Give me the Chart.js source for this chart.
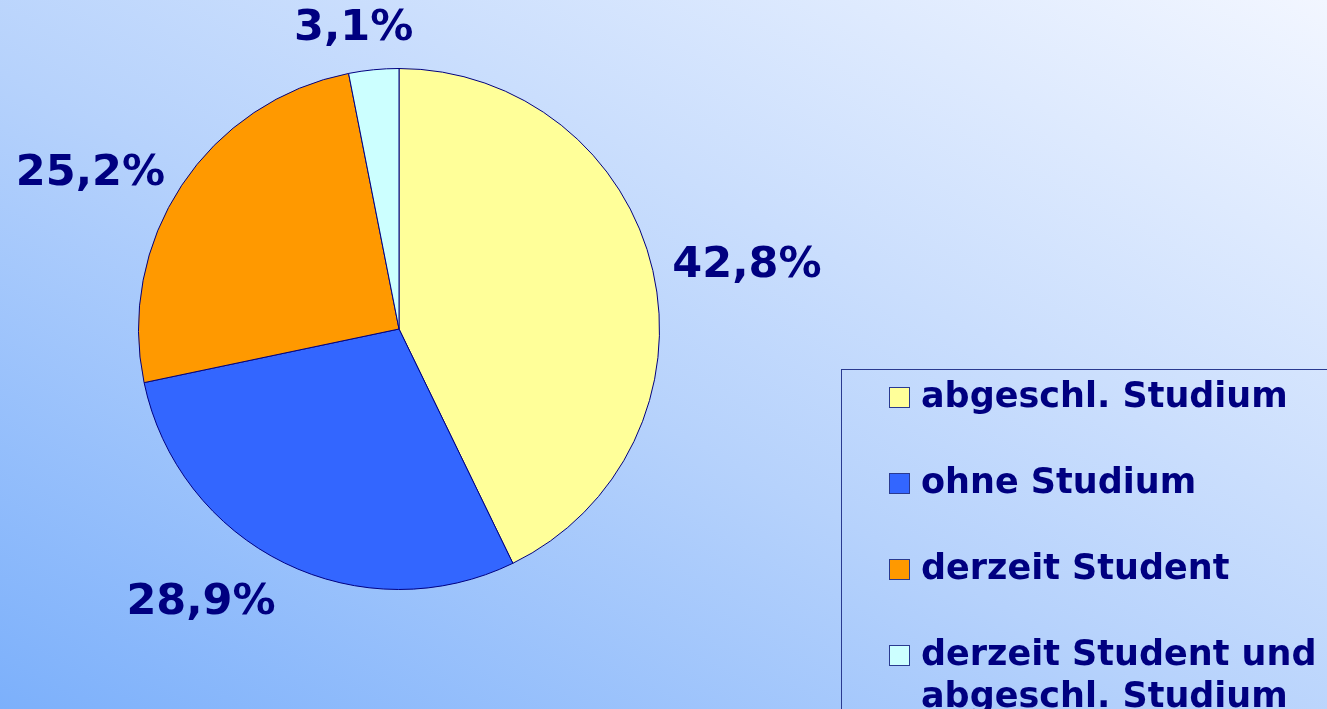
<!DOCTYPE html>
<html>
<head>
<meta charset="utf-8">
<script src="https://cdn.jsdelivr.net/npm/chart.js@4"></script>
<style>
  html, body { margin: 0; padding: 0; }
  body {
    width: 1327px; height: 709px; overflow: hidden; position: relative;
    background: linear-gradient(to top right, #7cb0fb 0%, #b6d2fc 45%, #f2f6ff 100%);
    font-family: "DejaVu Sans", Verdana, sans-serif;
  }
  #chart { position: absolute; left: 0; top: 0; }
  #legend {
    position: absolute; left: 841px; top: 369px; width: 500px; height: 400px;
    border: 1px solid #2a3a90; box-sizing: border-box;
  }
  .item { position: absolute; left: 47px; display: flex; align-items: flex-start; }
  .box { width: 19px; height: 19px; border: 1px solid #2a3a90; margin-top: 13px; flex: none; }
  .label { margin-left: 11px; color: #000080; font-weight: bold; font-size: 35px; line-height: 42px; width: 420px; }
</style>
</head>
<body>
<canvas id="chart" width="1327" height="709"></canvas>
<div id="legend"></div>
<script>
const categories = ["abgeschl. Studium", "ohne Studium", "derzeit Student", "derzeit Student und abgeschl. Studium"];
const values = [42.8, 28.9, 25.2, 3.1];
const colors = ["#FFFF99", "#3366FF", "#FF9900", "#CCFFFF"];

// legend
const legend = document.getElementById("legend");
categories.forEach((c, i) => {
  const it = document.createElement("div");
  it.className = "item";
  it.style.top = (4 + i * 86) + "px";
  it.innerHTML = `<div class="box" style="background:${colors[i]}"></div><div class="label">${c}</div>`;
  legend.appendChild(it);
});

// percentage labels outside the slices
const outLabels = {
  id: "outLabels",
  afterDraw(chart) {
    const ctx = chart.ctx;
    const meta = chart.getDatasetMeta(0);
    ctx.save();
    ctx.fillStyle = "#000080";
    ctx.font = "bold 43px 'DejaVu Sans', Verdana, sans-serif";
    meta.data.forEach((arc, i) => {
      const p = arc.getProps(["x", "y", "startAngle", "endAngle", "outerRadius"], true);
      const mid = (p.startAngle + p.endAngle) / 2;
      const r = p.outerRadius + 20;
      const x = p.x + Math.cos(mid) * r;
      const y = p.y + Math.sin(mid) * r;
      const c = Math.cos(mid), s = Math.sin(mid);
      ctx.textAlign = c > 0.3 ? "left" : c < -0.3 ? "right" : "center";
      ctx.textBaseline = s < -0.7 ? "bottom" : s > 0.7 ? "top" : "middle";
      ctx.fillText(values[i].toFixed(1).replace(".", ",") + "%", x - (c > -0.3 && c < 0.3 ? 18 : 0), y);
    });
    ctx.restore();
  }
};

new Chart(document.getElementById("chart"), {
  type: "pie",
  data: {
    labels: categories,
    datasets: [{
      data: values,
      backgroundColor: colors,
      borderColor: "#000080",
      borderWidth: 1
    }]
  },
  options: {
    responsive: false,
    animation: false,
    layout: { padding: { left: 138, right: 667, top: 68, bottom: 119 } },
    plugins: { legend: { display: false }, tooltip: { enabled: false } }
  },
  plugins: [outLabels]
});
</script>
</body>
</html>
